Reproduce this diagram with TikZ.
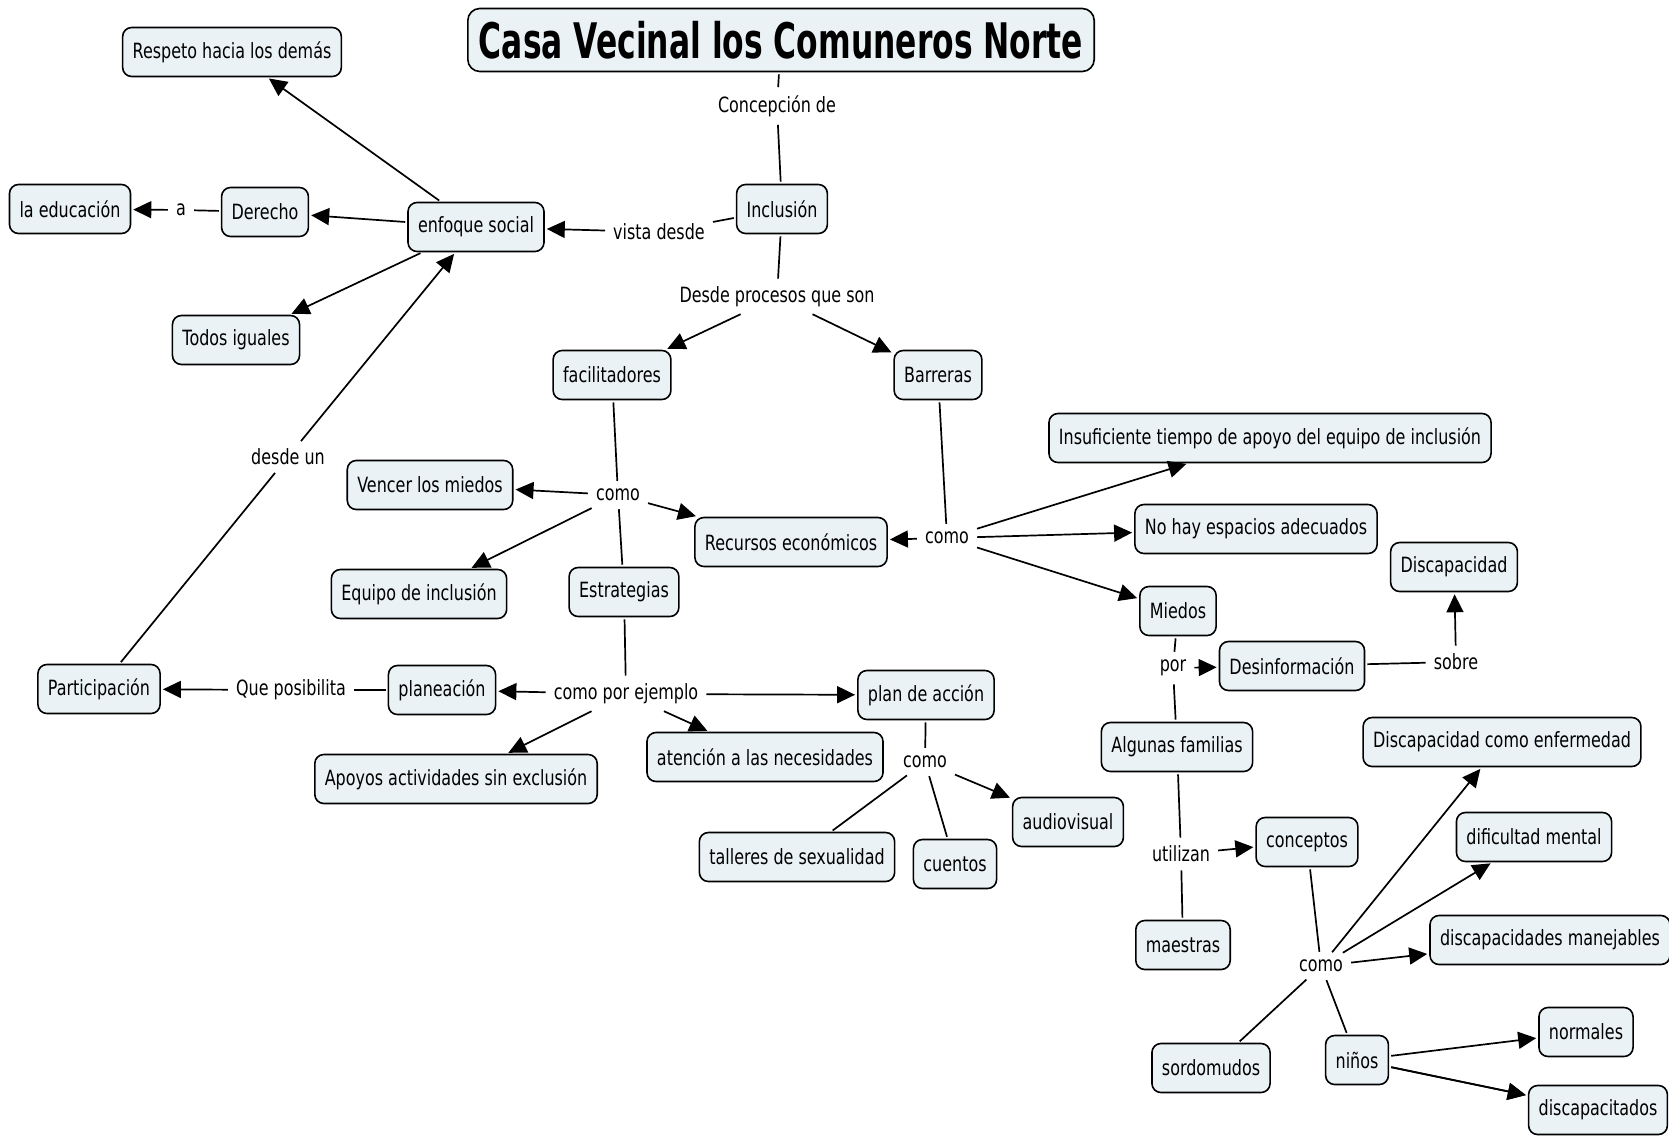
\documentclass[tikz,border=0pt]{standalone}
\usepackage{fontspec}
\setmainfont[FakeStretch=0.76]{DejaVu Sans}
\newfontfamily\titlefont[FakeStretch=0.64]{DejaVu Sans}
\usetikzlibrary{arrows.meta}
\definecolor{conceptfill}{RGB}{234,242,245}
\tikzset{
  concept/.style={draw=black, line width=1.6pt, fill=conceptfill, rounded corners=9pt,
    minimum height=49pt, inner xsep=10pt, font=\fontsize{21}{25}\selectfont},
  heading/.style={concept, minimum height=63pt, inner xsep=11pt, rounded corners=12pt,
    font=\titlefont\bfseries\fontsize{49}{56}\selectfont},
  linkphrase/.style={inner sep=6pt, font=\fontsize{21}{25}\selectfont},
  conn/.style={line width=1.7pt, shorten <=2pt, shorten >=2pt},
  arr/.style={conn, -{Triangle[length=18pt,width=17pt]}},
}
\begin{document}
\begin{tikzpicture}[x=1pt,y=-1pt]
\useasboundingbox[fill=white] (0,0) rectangle (1669,1137);

% concepts
\node[heading] (title) at (781,40) {Casa Vecinal los Comuneros Norte};
\node[concept] (respeto) at (232,52) {Respeto hacia los demás};
\node[concept] (educ) at (70,209) {la educación};
\node[concept] (derecho) at (265,212) {Derecho};
\node[concept] (enfoque) at (476,227) {enfoque social};
\node[concept] (inclusion) at (782,209) {Inclusión};
\node[concept] (todos) at (236,340) {Todos iguales};
\node[concept] (facil) at (612,375) {facilitadores};
\node[concept] (barreras) at (938,375) {Barreras};
\node[concept] (insuf) at (1270,438) {Insuficiente tiempo de apoyo del equipo de inclusión};
\node[concept] (vencer) at (430,485) {Vencer los miedos};
\node[concept] (recursos) at (791,542) {Recursos económicos};
\node[concept] (nohay) at (1256,529) {No hay espacios adecuados};
\node[concept] (discap) at (1454,567) {Discapacidad};
\node[concept] (equipo) at (419,594) {Equipo de inclusión};
\node[concept] (estrat) at (624,592) {Estrategias};
\node[concept] (miedos) at (1178,611) {Miedos};
\node[concept] (desinf) at (1292,666) {Desinformación};
\node[concept] (partic) at (99,689) {Participación};
\node[concept] (planea) at (442,690) {planeación};
\node[concept] (plan) at (926,695) {plan de acción};
\node[concept] (familias) at (1177,747) {Algunas familias};
\node[concept] (enferm) at (1502,742) {Discapacidad como enfermedad};
\node[concept] (apoyos) at (456,779) {Apoyos actividades sin exclusión};
\node[concept] (atencion) at (765,757) {atención a las necesidades};
\node[concept] (audio) at (1068,822) {audiovisual};
\node[concept] (dific) at (1534,837) {dificultad mental};
\node[concept] (talleres) at (797,857) {talleres de sexualidad};
\node[concept] (cuentos) at (955,864) {cuentos};
\node[concept] (conceptos) at (1307,842) {conceptos};
\node[concept] (maestras) at (1183,945) {maestras};
\node[concept] (manej) at (1550,940) {discapacidades manejables};
\node[concept] (sordo) at (1211,1068) {sordomudos};
\node[concept] (ninos) at (1357,1060) {niños};
\node[concept] (normales) at (1586,1032) {normales};
\node[concept] (discapac) at (1598,1110) {discapacitados};

% linking phrases
\node[linkphrase] (lConc) at (777,106) {Concepción de};
\node[linkphrase] (lVista) at (659,232) {vista desde};
\node[linkphrase] (lA) at (181,210) {a};
\node[linkphrase] (lDesde) at (777,297) {Desde procesos que son};
\node[linkphrase] (lDesdeUn) at (288,457) {desde un};
\node[linkphrase] (lComoF) at (618,495) {como};
\node[linkphrase] (lComoB) at (947,538) {como};
\node[linkphrase] (lEjemplo) at (626,694) {como por ejemplo};
\node[linkphrase] (lPosib) at (291,690) {Que posibilita};
\node[linkphrase] (lComoP) at (925,762) {como};
\node[linkphrase] (lPor) at (1173,668) {por};
\node[linkphrase] (lSobre) at (1456,662) {sobre};
\node[linkphrase] (lUtil) at (1181,854) {utilizan};
\node[linkphrase] (lComoC) at (1321,966) {como};

% connectors
\draw[conn] (title) -- (lConc);
\draw[conn] (lConc) -- (inclusion);
\draw[conn] (inclusion) -- (lVista);
\draw[arr] (lVista) -- (enfoque);
\draw[arr] (enfoque) -- (respeto);
\draw[arr] (enfoque) -- (derecho);
\draw[arr] (enfoque) -- (todos);
\draw[conn] (derecho) -- (lA);
\draw[arr] (lA) -- (educ);
\draw[conn] (inclusion) -- (lDesde);
\draw[arr] (lDesde) -- (facil);
\draw[arr] (lDesde) -- (barreras);
\draw[conn] (partic) -- (lDesdeUn);
\draw[arr] (lDesdeUn) -- (enfoque);

\draw[conn] (facil) -- (lComoF);
\draw[arr] (lComoF) -- (vencer);
\draw[arr] (lComoF) -- (recursos);
\draw[arr] (lComoF) -- (equipo);
\draw[conn] (lComoF) -- (estrat);

\draw[conn] (barreras) -- (lComoB);
\draw[arr] (lComoB) -- (recursos);
\draw[arr] (lComoB) -- (insuf);
\draw[arr] (lComoB) -- (nohay);
\draw[arr] (lComoB) -- (miedos);

\draw[conn] (estrat) -- (lEjemplo);
\draw[arr] (lEjemplo) -- (planea);
\draw[arr] (lEjemplo) -- (plan);
\draw[arr] (lEjemplo) -- (apoyos);
\draw[arr] (lEjemplo) -- (atencion);
\draw[conn] (planea) -- (lPosib);
\draw[arr] (lPosib) -- (partic);

\draw[conn] (plan) -- (lComoP);
\draw[arr] (lComoP) -- (audio);
\draw[conn] (lComoP) -- (talleres);
\draw[conn] (lComoP) -- (cuentos);

\draw[conn] (miedos) -- (lPor);
\draw[arr] (lPor) -- (desinf);
\draw[conn] (lPor) -- (familias);
\draw[conn] (desinf) -- (lSobre);
\draw[arr] (lSobre) -- (discap);

\draw[conn] (familias) -- (lUtil);
\draw[arr] (lUtil) -- (conceptos);
\draw[conn] (lUtil) -- (maestras);

\draw[conn] (conceptos) -- (lComoC);
\draw[arr] (lComoC) -- (enferm);
\draw[arr] (lComoC) -- (dific);
\draw[arr] (lComoC) -- (manej);
\draw[conn] (lComoC) -- (sordo);
\draw[conn] (lComoC) -- (ninos);

\draw[arr] (ninos) -- (normales);
\draw[arr] (ninos) -- (discapac);
\draw[arr] (ninos.-12) -- (discapac);
\end{tikzpicture}
\end{document}
